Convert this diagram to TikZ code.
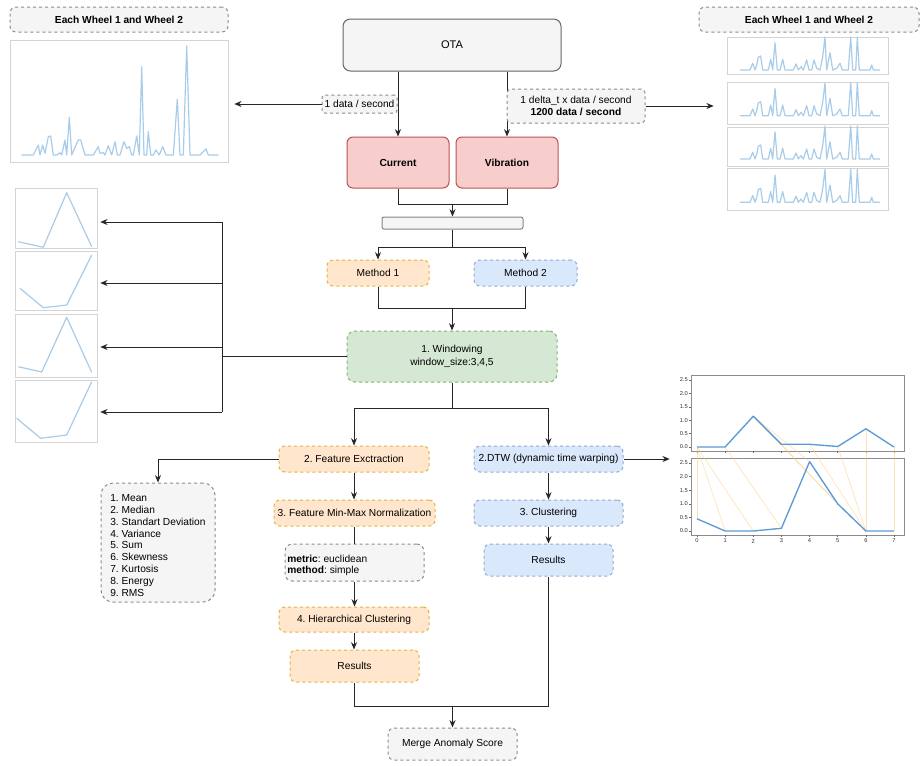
\documentclass[tikz,border=0pt]{standalone}
\usepackage{fontspec}
\setmainfont{Liberation Sans}
\usetikzlibrary{arrows.meta,fit}
\frenchspacing
\definecolor{grayF}{HTML}{F5F5F5}
\definecolor{grayS}{HTML}{666666}
\definecolor{redF}{HTML}{F8CECC}
\definecolor{redS}{HTML}{B85450}
\definecolor{orF}{HTML}{FFE6CC}
\definecolor{orS}{HTML}{D79B00}
\definecolor{blF}{HTML}{DAE8FC}
\definecolor{blS}{HTML}{6C8EBF}
\definecolor{grF}{HTML}{D5E8D4}
\definecolor{grS}{HTML}{82B366}
\definecolor{plotblue}{HTML}{A9CCE9}
\definecolor{dtwblue}{HTML}{5B9BD5}
\definecolor{dtworange}{HTML}{FFC877}
\definecolor{framegray}{HTML}{D4D4D4}
\tikzset{
  x=0.75pt, y=-0.75pt,
  every node/.style={font=\fontsize{7.65}{8.9}\selectfont, inner sep=0pt},
  spanbox/.style args={#1/#2/#3/#4}{minimum width={(#3-#1)*0.75pt}, minimum height={(#4-#2)*0.75pt}, at={({(#1+#3)/2},{(#2+#4)/2})}},
  mybox/.style={rounded corners=4.5pt, line width=0.75pt, inner sep=0pt},
  dbox/.style={mybox, dash pattern=on 2.25pt off 2.25pt},
  graybox/.style={dbox, draw=grayS!75, fill=grayF},
  solidgray/.style={mybox, draw=grayS, fill=grayF},
  redbox/.style={mybox, draw=redS, fill=redF},
  orbox/.style={dbox, draw=orS!75, fill=orF},
  blbox/.style={dbox, draw=blS!75, fill=blF},
  grbox/.style={dbox, draw=grS, fill=grF},
  con/.style={line width=0.75pt, draw=black!85},
  arr/.style={con, -{Stealth[length=5.5pt,width=4.5pt]}},
  chartframe/.style={draw=framegray, line width=0.6pt, fill=white, inner sep=0pt},
  ghost/.style={inner sep=0pt},
  spk/.style={draw=plotblue, line width=0.9pt, line join=round},
  dtwlab/.style={font=\fontsize{4.3}{5}\selectfont, text=black!80},
}
\begin{document}
\begin{tikzpicture}
\useasboundingbox (0,0) rectangle (922,765);
\fill[white] (0,0) rectangle (922,765);

% ---------- top-left chart ----------
\node[graybox, spanbox=10/7/228/32] (tltitle) {\textbf{Each Wheel 1 and Wheel 2}};
\node[chartframe, fit={(10,40) (228,162)}] (tlchart) {};
\node[ghost, fit={(10,38) (234,164)}] (tlimg) {};
\draw[spk] plot coordinates {(21.7,155) (33.3,155) (38.3,145) (40,155) (42.7,145) (45,153.3) (48.3,136.7) (50.7,136) (53.3,155) (56.7,155) (60,152.7) (61.7,155) (65,140) (66.7,155) (69.3,117.3) (71.7,155) (78.3,140) (80.7,140) (85,155) (93.3,155) (98.3,146.7) (100,153.3) (103.3,152.7) (105,155) (108.3,145.7) (111.7,155) (115,141.7) (117.3,155) (120,155) (124,141.7) (126.7,148.3) (129.3,146.7) (131.7,155) (133.3,155) (136.7,136) (139.3,155) (141.7,66.7) (144,155) (146.7,155) (148.3,131.7) (150.7,155) (153.3,155) (156,150) (159.3,155) (162.7,146.7) (166,155) (173.3,155) (177.3,99.3) (180,155) (183.3,155) (186.7,46) (190,155) (200,155) (206,149) (208.3,155) (218.3,155)};

% ---------- top-right charts ----------
\node[graybox, spanbox=699/7/919/32] (trtitle) {\textbf{Each Wheel 1 and Wheel 2}};
\node[chartframe, fit={(727,37) (888,74)}] (rc1) {};
\node[chartframe, fit={(727,82) (888,124)}] (rc2) {};
\node[chartframe, fit={(727,127) (888,166)}] (rc3) {};
\node[chartframe, fit={(727,168) (888,210)}] (rc4) {};
\node[ghost, fit={(714,35) (895,212)}] (rimg) {};
\foreach \by in {70,115.7,159,202.3}{
  \begin{scope}[shift={(740,\by)}]
  \draw[spk] plot coordinates {(0,0) (10,0) (12.7,-6.7) (15,0) (16.7,-5) (18.3,-12.7) (20.7,-14) (22.7,0) (28.3,0) (30.7,-10.7) (32.7,0) (35,-27.3) (37.3,0) (40,0) (42.7,-10.7) (45,0) (53.3,0) (56,-6) (58.3,0) (61,-3.3) (63.3,0) (66.7,-10) (69,0) (71.7,0) (74,-10) (76.7,-1.7) (80,0) (82.7,-13.3) (85,-33) (86.7,0) (90,-17.3) (92.7,0) (96.7,-1.7) (100,-6.7) (102.3,0) (108.3,0) (110.7,-33) (112.7,0) (115.7,0) (117.3,-33) (119.3,0) (130,0) (131.7,-5) (133.3,0) (140,0)};
  \end{scope}
}

% ---------- left charts ----------
\node[chartframe, fit={(15,188) (97,248)}] (lc1) {};
\node[chartframe, fit={(15,251) (97,310)}] (lc2) {};
\node[chartframe, fit={(15,314) (97,377)}] (lc3) {};
\node[chartframe, fit={(15,380) (97,442)}] (lc4) {};
\node[ghost, fit={(5,185) (100,445)}] (limg) {};
\draw[spk] plot coordinates {(18.3,241.7) (43.3,247.3) (66.7,192.7) (91.7,246.7)};
\draw[spk] plot coordinates {(20,288.3) (43.3,307.7) (66.7,305) (91.7,255)};
\draw[spk] plot coordinates {(18.3,366.7) (41.7,372) (66.7,317.3) (91.7,372.3)};
\draw[spk] plot coordinates {(16.7,418.3) (40.7,438.3) (66.7,435) (91.7,381.7)};

% ---------- DTW chart ----------
\node[draw=black!45, line width=0.75pt, fill=white, fit={(691,375) (904,451)}] (dtwtop) {};
\node[draw=black!45, line width=0.75pt, fill=white, fit={(691,458) (904,535)}] (dtwbot) {};
\node[ghost, fit={(670,370) (910,545)}] (dtwimg) {};
\foreach \v/\lab [count=\k] in {0/0.0,0.5/0.5,1/1.0,1.5/1.5,2/2.0,2.5/2.5}{
  \draw[black!60, line width=0.4pt] (691,{447-26.8*\v}) -- (689,{447-26.8*\v});
  \draw[black!60, line width=0.4pt] (691,{531-27.2*\v}) -- (689,{531-27.2*\v});
  \node[dtwlab, anchor=east] (ta\k) at (688,{447-26.8*\v}) {\lab};
  \node[dtwlab, anchor=east] (tb\k) at (688,{531-27.2*\v}) {\lab};
}
\foreach \i in {0,...,7}{
  \draw[black!60, line width=0.4pt] ({697+28.14*\i},535) -- ({697+28.14*\i},537);
  \draw[black!60, line width=0.4pt] ({697+28.14*\i},451) -- ({697+28.14*\i},453);
  \node[dtwlab] (xl\i) at ({697+28.14*\i},541) {\i};
}
\foreach \a/\b in {0/0,0/1,0/2,1/3,2/4,2/5,3/5,4/6,5/6,6/6,7/7}{
  \pgfmathsetmacro\ya{{447,447,416.2,444.3,444.3,446.5,428.8,447}[\a]}
  \pgfmathsetmacro\yb{{518.8,531,531,528.3,461.6,503.8,531,531}[\b]}
  \draw[dtworange, line width=0.45pt, opacity=0.55] ({697+28.14*\a},\ya) -- ({697+28.14*\b},\yb);
}
\draw[dtwblue, line width=1pt, line join=round] plot coordinates {(697,447) (725.1,447) (753.3,416.2) (781.4,444.3) (809.6,444.3) (837.7,446.5) (865.9,428.8) (894,447)};
\draw[dtwblue, line width=1pt, line join=round] plot coordinates {(697,518.8) (725.1,531) (753.3,531) (781.4,528.3) (809.6,461.6) (837.7,503.8) (865.9,531) (894,531)};

% ---------- flow boxes ----------
\node[solidgray, rounded corners=5.5pt, spanbox=343/19/561/71, font=\fontsize{8.3}{10}\selectfont] (ota) {OTA};
\node[redbox, spanbox=347/137/449/188] (cur) {\textbf{Current}};
\node[redbox, spanbox=456/137/558/188] (vib) {\textbf{Vibration}};
\node[solidgray, rounded corners=1.5pt, draw=grayS!80, spanbox=382/217/523/229] (bar) {};
\node[orbox, spanbox=327/260/429/286] (m1) {Method 1};
\node[blbox, spanbox=474/260/577/286] (m2) {Method 2};
\node[grbox, rounded corners=6pt, spanbox=347/331/557/382, align=center, font=\fontsize{7.65}{9.45}\selectfont] (win) {1. Windowing\\window\_size:3,4,5};
\node[orbox, spanbox=279/446/429/472] (fe) {2. Feature Exctraction};
\node[orbox, spanbox=274/500/435/526] (norm) {3. Feature Min-Max Normalization};
\node[graybox, rounded corners=5.5pt, spanbox=285/544/424/581] (metric) {};
\node[orbox, spanbox=279/607/429/632] (hier) {4. Hierarchical Clustering};
\node[orbox, spanbox=290/650/419/682] (res1) {Results};
\node[blbox, spanbox=474/446/623/472] (dtw) {2.DTW (dynamic time warping)};
\node[blbox, spanbox=474/500/623/526] (clus) {3. Clustering};
\node[blbox, spanbox=484/544/613/576] (res2) {Results};
\node[graybox, spanbox=388/728/517/760] (merge) {Merge Anomaly Score};
\node[graybox, rounded corners=9pt, spanbox=101/483/215/602] (list) {};

% ---------- connectors ----------
\draw[arr] (ota.south -| cur.north) -- (cur.north);
\draw[arr] (ota.south -| vib.north) -- (vib.north);

\coordinate (j1) at (452.5,204);
\draw[con] (cur.south) |- (j1);
\draw[con] (vib.south) |- (j1);
\draw[arr] (j1) -- (bar.north);

\coordinate (j2) at (452.5,247);
\draw[con] (bar.south) -- (j2);
\draw[arr] (j2) -| (m1.north);
\draw[arr] (j2) -| (m2.north);

\coordinate (j3) at (452,308);
\draw[con] (m1.south) |- (j3);
\draw[con] (m2.south) |- (j3);
\draw[arr] (j3) -- (win.north);

\coordinate (bus) at (222,356.5);
\coordinate (b1) at (222,222);
\coordinate (b2) at (222,283);
\coordinate (b3) at (222,347);
\coordinate (b4) at (222,412);
\draw[con] (win.west) -- (bus);
\draw[con] (b1) -- (b4);
\draw[arr] (b1) -- (b1 -| limg.east);
\draw[arr] (b2) -- (b2 -| limg.east);
\draw[arr] (b3) -- (b3 -| limg.east);
\draw[arr] (b4) -- (b4 -| limg.east);

\coordinate (j4) at (452,408);
\draw[con] (win.south) -- (j4);
\draw[arr] (j4) -| (fe.north);
\draw[arr] (j4) -| (dtw.north);

\draw[arr] (fe.west) -| (list.north);
\draw[arr] (fe.south) -- (fe.south |- norm.north);
\draw[con] (norm.south) -- (norm.south |- metric.north);
\draw[arr] (metric.south) -- (metric.south |- hier.north);
\draw[arr] (hier.south) -- (hier.south |- res1.north);

\draw[arr] (dtw.south) -- (dtw.south |- clus.north);
\draw[arr] (clus.south) -- (clus.south |- res2.north);
\draw[arr] (dtw.east) -- (dtw.east -| dtwimg.west);

\coordinate (j5) at (452.5,706);
\draw[con] (res1.south) |- (j5);
\draw[con] (res2.south) |- (j5);
\draw[arr, line width=1.2pt] (j5) -- (merge.north);

% ---------- labels on OTA lines ----------
\node[graybox, rounded corners=2pt, spanbox=322/95/397/113] (lab1) {1 data / second};
\node[graybox, rounded corners=3pt, spanbox=507/89/645/123, align=center, font=\fontsize{7.65}{8.7}\selectfont] (lab2) {1 delta\_t x data / second\\\textbf{1200 data / second}};
\draw[arr] (lab1.west) -- (lab1.west -| tlimg.east);
\draw[arr] (lab2.east) -- (lab2.east -| rimg.west);

% ---------- texts inside boxes ----------
\node[anchor=west, align=left, font=\fontsize{7.65}{8.7}\selectfont] (mtxt) at (287,565.5) {\textbf{metric}: euclidean\\\textbf{method}: simple};
\node[anchor=west, align=left] (ltxt) at (110,545.5) {1. Mean\\2. Median\\3. Standart Deviation\\4. Variance\\5. Sum\\6. Skewness\\7. Kurtosis\\8. Energy\\9. RMS};
\end{tikzpicture}
\end{document}
